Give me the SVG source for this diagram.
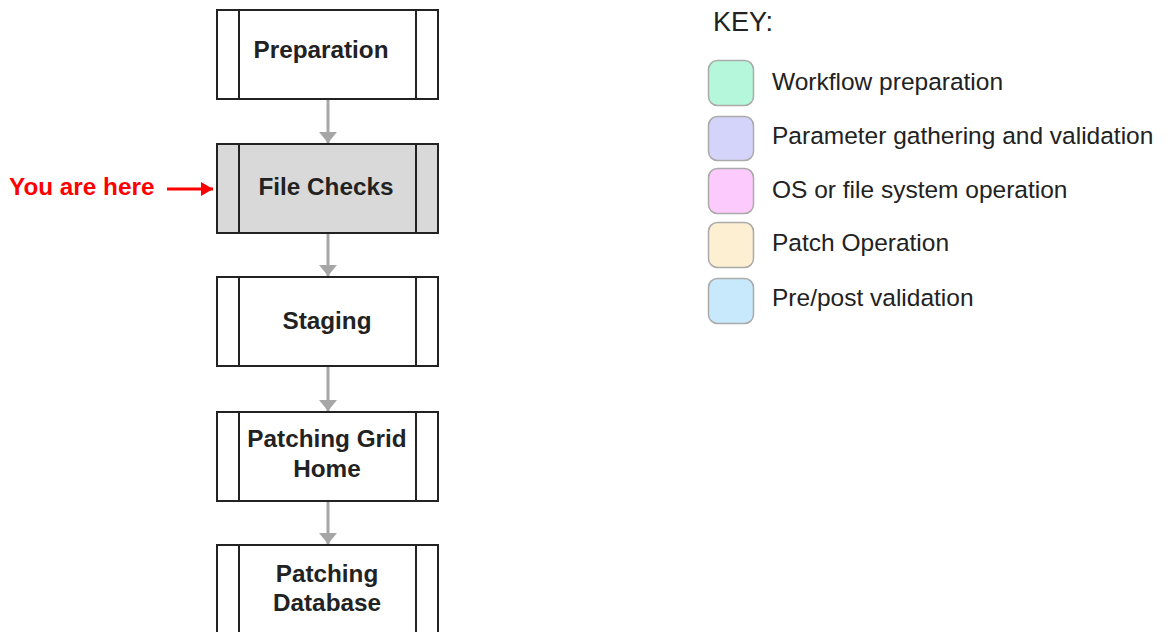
<svg xmlns="http://www.w3.org/2000/svg" width="1169" height="632" viewBox="0 0 1169 632">
<style>
.box{fill:#fff;stroke:#222;stroke-width:2}
.cur{fill:#d9d9d9}
.bar{stroke:#222;stroke-width:2}
.lbl{font-family:"Liberation Sans",Arial,sans-serif;font-weight:bold;font-size:24.3px;fill:#222;text-anchor:middle}
.conn{stroke:#a6a6a6;stroke-width:3;fill:none}
.key{font-family:"Liberation Sans",Arial,sans-serif;font-size:24.5px;fill:#222}
.sw{stroke:#aaa;stroke-width:1.5}
</style>
<defs>
<marker id="ah" viewBox="0 0 11 18" refX="11" refY="9" markerWidth="11" markerHeight="18" markerUnits="userSpaceOnUse" orient="auto">
<path d="M0,0 L11,9 L0,18 z" fill="#a6a6a6"/>
</marker>
<marker id="rh" viewBox="0 0 12 14" refX="12" refY="7" markerWidth="12" markerHeight="14" markerUnits="userSpaceOnUse" orient="auto">
<path d="M0,0 L12,7 L0,14 z" fill="#f00"/>
</marker>
</defs>
<rect width="1169" height="632" fill="#fff"/>
<g id="connectors">
<line class="conn" x1="328" y1="100" x2="328" y2="143" marker-end="url(#ah)"/>
<line class="conn" x1="328" y1="234" x2="328" y2="276" marker-end="url(#ah)"/>
<line class="conn" x1="328" y1="367" x2="328" y2="411" marker-end="url(#ah)"/>
<line class="conn" x1="328" y1="502" x2="328" y2="544" marker-end="url(#ah)"/>
</g>
<g id="preparation">
<rect class="box" x="217" y="10" width="221" height="89"/>
<line class="bar" x1="239" y1="10" x2="239" y2="99"/><line class="bar" x1="416" y1="10" x2="416" y2="99"/>
<text class="lbl" x="321" y="58">Preparation</text>
</g>
<g id="file-checks">
<rect class="box cur" x="217" y="144" width="221" height="89"/>
<line class="bar" x1="239" y1="144" x2="239" y2="233"/><line class="bar" x1="416" y1="144" x2="416" y2="233"/>
<text class="lbl" x="326" y="195">File Checks</text>
</g>
<g id="staging">
<rect class="box" x="217" y="277" width="221" height="89"/>
<line class="bar" x1="239" y1="277" x2="239" y2="366"/><line class="bar" x1="416" y1="277" x2="416" y2="366"/>
<text class="lbl" x="327" y="329">Staging</text>
</g>
<g id="patching-grid-home">
<rect class="box" x="217" y="412" width="221" height="89"/>
<line class="bar" x1="239" y1="412" x2="239" y2="501"/><line class="bar" x1="416" y1="412" x2="416" y2="501"/>
<text class="lbl" x="327" y="447">Patching Grid</text>
<text class="lbl" x="327" y="477">Home</text>
</g>
<g id="patching-database">
<rect class="box" x="217" y="545" width="221" height="100"/>
<line class="bar" x1="239" y1="545" x2="239" y2="640"/><line class="bar" x1="416" y1="545" x2="416" y2="640"/>
<text class="lbl" x="327" y="582">Patching</text>
<text class="lbl" x="327" y="611">Database</text>
</g>
<g id="you-are-here">
<text x="9" y="195" font-family="'Liberation Sans',Arial,sans-serif" font-weight="bold" font-size="24.3" fill="#f00">You are here</text>
<line x1="167" y1="189" x2="213" y2="189" stroke="#f00" stroke-width="3" marker-end="url(#rh)"/>
</g>
<g id="key">
<text class="key" x="713" y="31" style="font-size:27px">KEY:</text>
<rect class="sw" x="708.5" y="60.5" width="45" height="45" rx="9" fill="#b4f7da"/>
<text class="key" x="772" y="90">Workflow preparation</text>
<rect class="sw" x="708.5" y="116.5" width="45" height="44" rx="9" fill="#d4d4fa"/>
<text class="key" x="772" y="144">Parameter gathering and validation</text>
<rect class="sw" x="708.5" y="168.5" width="45" height="45" rx="9" fill="#fccafc"/>
<text class="key" x="772" y="198">OS or file system operation</text>
<rect class="sw" x="708.5" y="222.5" width="45" height="45" rx="9" fill="#fdefd2"/>
<text class="key" x="772" y="251">Patch Operation</text>
<rect class="sw" x="708.5" y="278.5" width="45" height="45" rx="9" fill="#c7e9fb"/>
<text class="key" x="772" y="306">Pre/post validation</text>
</g>
</svg>
